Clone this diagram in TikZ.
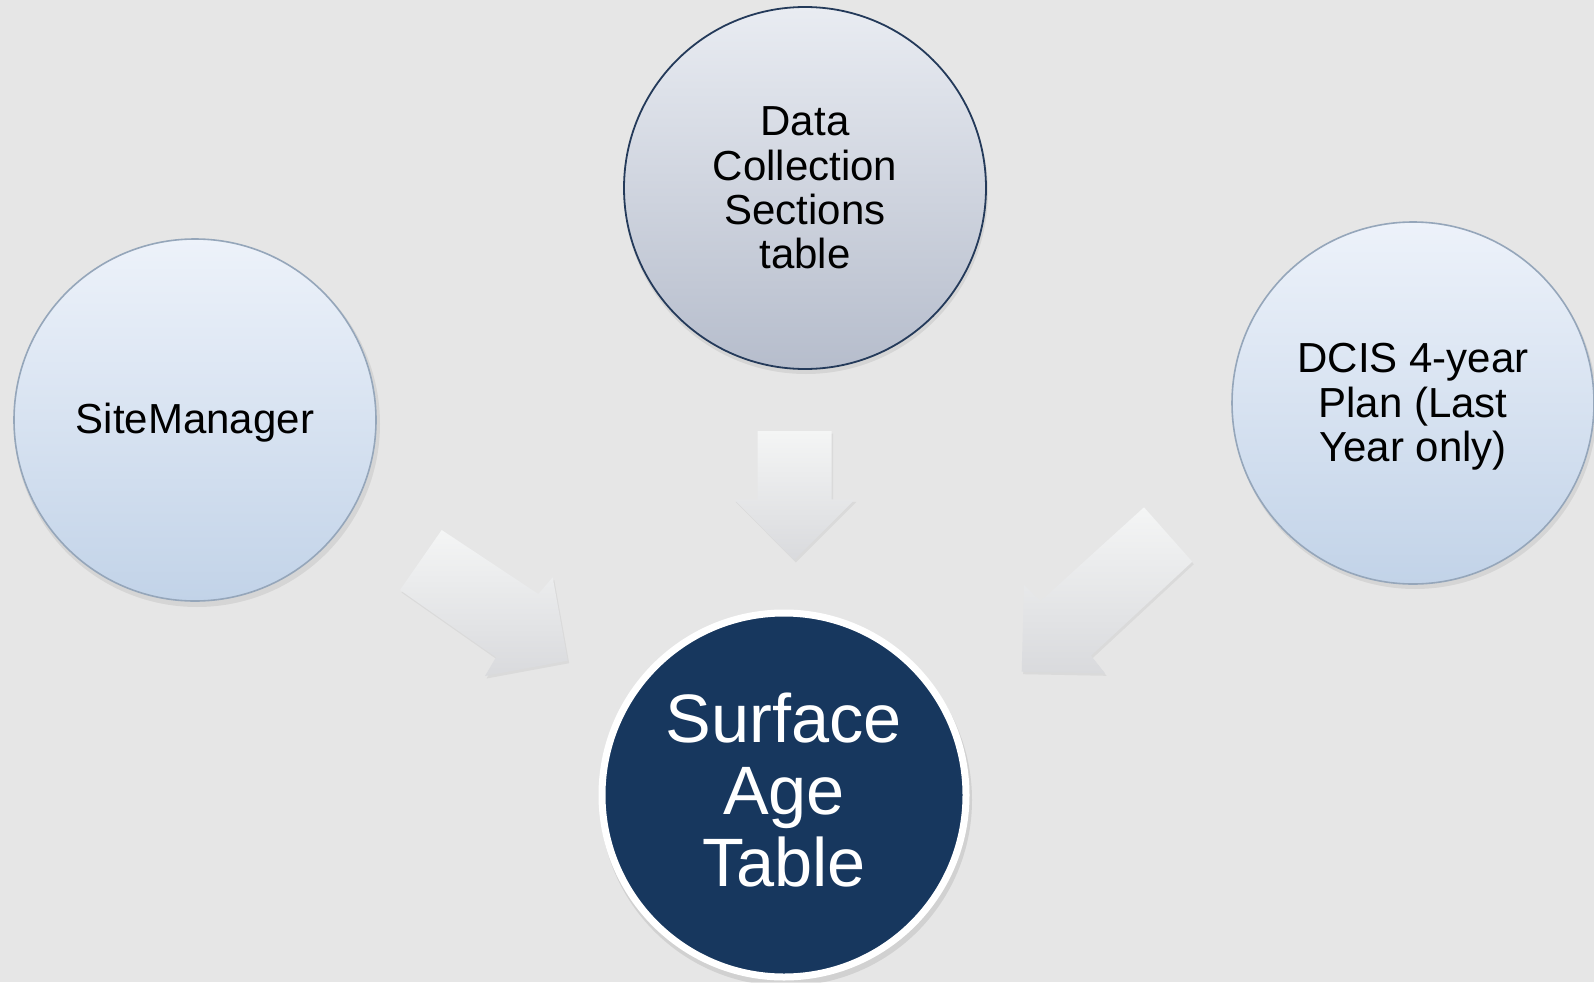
\documentclass[tikz,border=0pt]{standalone}
\usepackage{fontspec}
\setmainfont{Liberation Sans}
\definecolor{bg}{HTML}{E6E6E6}
\definecolor{navy}{HTML}{17375E}
\definecolor{topA}{HTML}{E9ECF2}
\definecolor{topB}{HTML}{B6BDCC}
\definecolor{topLine}{HTML}{243A5A}
\definecolor{sideA}{HTML}{EDF2FA}
\definecolor{sideB}{HTML}{C2D3E8}
\definecolor{sideLine}{HTML}{95A6BA}
\definecolor{arrA}{HTML}{F4F5F5}
\definecolor{arrB}{HTML}{D9DADD}
\begin{document}
\begin{tikzpicture}[x=1pt,y=-1pt,
  srcbig/.style={circle,inner sep=0pt,minimum size=362pt,align=center,
     font=\fontsize{42}{44.4}\selectfont,text=black},
  topsrc/.style={srcbig,draw=topLine,line width=1.8pt,top color=topA,bottom color=topB},
  sidesrc/.style={srcbig,draw=sideLine,line width=1.6pt,top color=sideA,bottom color=sideB},
  target/.style={circle,inner sep=0pt,minimum size=364pt,fill=navy,draw=white,line width=7pt,
     align=center,text=white,font=\fontsize{68.5}{72}\selectfont},
  blockarrow/.style={top color=arrA,bottom color=arrB,draw=none},
  shadowshape/.style={fill=black,opacity=0.05,draw=none}
]
\fill[bg] (0,0) rectangle (1594,982);
\useasboundingbox (0,0) rectangle (1594,982);

% circle shadows
\fill[black,opacity=0.07] (197,424) circle (183);
\fill[black,opacity=0.07] (1415,407) circle (182);
\fill[black,opacity=0.07] (806,192) circle (182);
\fill[black,opacity=0.09] (786,800) circle (186);

\node[topsrc] (dcs) at (805,188) {Data\\Collection\\Sections\\table};
\node[sidesrc] (sm) at (195,420) {};
\node[font=\fontsize{42}{44.4}\selectfont] (smlabel) at ([yshift=-3pt]sm.center) {SiteManager};
\node[sidesrc] (dcis) at (1413,403) {};
\node[align=center,font=\fontsize{42}{44.4}\selectfont] (dcislabel) at ([yshift=-4pt]dcis.center) {DCIS 4-year\\Plan (Last\\Year only)};
\node[target] (sat) at (784,795) {};
\node[align=center,text=white,font=\fontsize{68.5}{72}\selectfont] (satlabel) at ([yshift=5pt]sat.center) {Surface\\Age\\Table};

% block arrows: shadows
\begin{scope}[shift={(1.5,2.5)}]
\fill[shadowshape] (441.7,530) -- (538.3,594) -- (552.7,577.3) -- (567.7,660.7) -- (485,676) -- (496,657.3) -- (400,590) -- cycle;
\fill[shadowshape] (757.7,431) -- (831.7,431) -- (831.7,499.3) -- (855,499.3) -- (794.3,560) -- (734,499.3) -- (757.7,499.3) -- cycle;
\fill[shadowshape] (1144,507.3) -- (1192.3,561.7) -- (1091,655.7) -- (1105,673.3) -- (1021.7,671.7) -- (1024,585) -- (1040.7,601) -- cycle;
\end{scope}

% block arrows
\path[blockarrow] (441.7,530) -- (538.3,594) -- (552.7,577.3) -- (567.7,660.7) -- (485,676) -- (496,657.3) -- (400,590) -- cycle;
\path[blockarrow] (757.7,431) -- (831.7,431) -- (831.7,499.3) -- (855,499.3) -- (794.3,560) -- (734,499.3) -- (757.7,499.3) -- cycle;
\path[blockarrow] (1144,507.3) -- (1192.3,561.7) -- (1091,655.7) -- (1105,673.3) -- (1021.7,671.7) -- (1024,585) -- (1040.7,601) -- cycle;
\end{tikzpicture}
\end{document}
